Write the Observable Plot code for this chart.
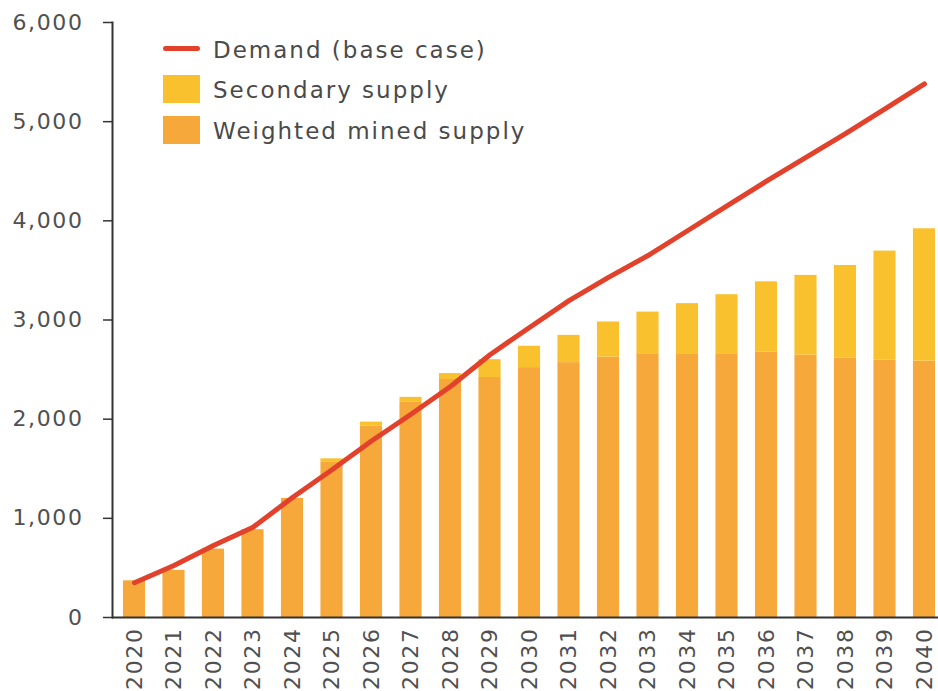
<!DOCTYPE html>
<html>
<head>
<meta charset="utf-8">
<script src="https://cdn.jsdelivr.net/npm/d3@7"></script>
<script src="https://cdn.jsdelivr.net/npm/@observablehq/plot@0.6"></script>
<style>
  html, body { margin: 0; padding: 0; background: #fff; overflow: hidden; }
  #wrap { position: relative; width: 938px; height: 691px; }
  svg text { letter-spacing: 1.6px; }
  .legend { position: absolute; left: 163px; top: 30px; font-family: "DejaVu Sans", sans-serif; font-size: 23px; color: #4a4a4a; letter-spacing: 2px; }
  .row { position: absolute; left: 0; height: 40px; white-space: nowrap; }
  .row span.t { position: absolute; left: 50px; top: 0; line-height: 40px; }
  .sw-line { position: absolute; left: 0; top: 16px; width: 37px; height: 5px; border-radius: 3px; }
  .sw-box { position: absolute; left: 0; top: 5px; width: 37px; height: 28px; }
</style>
</head>
<body>
<div id="wrap"></div>
<script>
const years = [2020,2021,2022,2023,2024,2025,2026,2027,2028,2029,2030,2031,2032,2033,2034,2035,2036,2037,2038,2039,2040];
const minedSupply = [370,475,690,885,1200,1570,1930,2170,2400,2420,2520,2570,2625,2660,2660,2660,2675,2645,2615,2595,2585];
const secondarySupply = [0,0,0,0,0,30,40,50,60,180,215,275,355,420,505,595,710,805,935,1100,1335];
const demandBase = [350,525,725,910,1210,1490,1780,2050,2330,2650,2925,3195,3430,3650,3900,4150,4400,4640,4880,5130,5380];
const yTicks = [0,1000,2000,3000,4000,5000,6000];
const seriesNames = ["Demand (base case)", "Secondary supply", "Weighted mined supply"];
const colors = {demand: "#E2412B", secondary: "#FAC12F", mined: "#F6A83B"};

const data = years.map((y, i) => ({
  year: y,
  mined: minedSupply[i],
  secondary: secondarySupply[i],
  total: minedSupply[i] + secondarySupply[i],
  demand: demandBase[i]
}));

const half = 0.28;
const chart = Plot.plot({
  width: 938,
  height: 691,
  marginTop: 22,
  marginBottom: 74,
  marginLeft: 112,
  marginRight: 0,
  style: {fontFamily: "DejaVu Sans, sans-serif", fontSize: "22px", color: "#555", background: "#fff"},
  x: {type: "linear", domain: [2020 - 22/39.5, 2040 + 14/39.5]},
  y: {domain: [0, 6000]},
  marks: [
    Plot.rectY(data, {x1: d => d.year - half, x2: d => d.year + half, y1: 0, y2: "mined", fill: colors.mined}),
    Plot.rectY(data, {x1: d => d.year - half, x2: d => d.year + half, y1: "mined", y2: "total", fill: colors.secondary}),
    Plot.line(data, {x: "year", y: "demand", stroke: colors.demand, strokeWidth: 5, strokeLinecap: "round", strokeLinejoin: "round"}),
    Plot.frame({anchor: "left", stroke: "#333", strokeWidth: 2}),
    Plot.ruleY([0], {stroke: "#333", strokeWidth: 2}),
    Plot.axisY({ticks: yTicks, tickFormat: d3.format(","), tickSize: 9, tickPadding: 20, stroke: "#333", strokeWidth: 1.5, fill: "#505050", label: null}),
    Plot.axisX({ticks: years, tickFormat: d => String(d), tickRotate: -90, tickSize: 0, tickPadding: 10, fontSize: 22, fill: "#505050", label: null})
  ]
});
const wrap = document.getElementById("wrap");
wrap.appendChild(chart);

const legend = document.createElement("div");
legend.className = "legend";
legend.innerHTML = `
  <div class="row" style="top:0px"><div class="sw-line" style="background:${colors.demand}"></div><span class="t">${seriesNames[0]}</span></div>
  <div class="row" style="top:40px"><div class="sw-box" style="background:${colors.secondary}"></div><span class="t">${seriesNames[1]}</span></div>
  <div class="row" style="top:81px"><div class="sw-box" style="background:${colors.mined}"></div><span class="t">${seriesNames[2]}</span></div>`;
wrap.appendChild(legend);
</script>
</body>
</html>
